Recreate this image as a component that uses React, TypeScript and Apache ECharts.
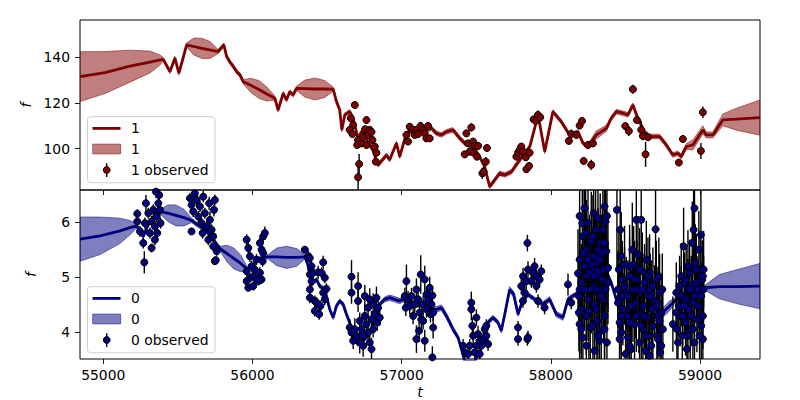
import React, { useEffect, useRef } from "react";
import * as echarts from "echarts";

const FONT = "DejaVu Sans";
const X_MIN = 54844;
const X_MAX = 59402;
const xTicks = [55000, 56000, 57000, 58000, 59000];
const topYTicks = [100, 120, 140];
const bottomYTicks = [4, 5, 6];
const topYRange = [81.9, 156.3];
const bottomYRange = [3.52, 6.58];

const TOP_COLOR = "#800000";
const TOP_FILL = "rgba(128,0,0,0.5)";
const BOT_COLOR = "#000080";
const BOT_FILL = "rgba(0,0,128,0.5)";

// band "1": [t, mean, sigma]
const topMean: number[][] = [
  [54844,131.5,10.9],[55011,133.3,9.2],[55179,136.1,7.0],[55313,137.9,4.8],[55380,138.8,2.2],[55402,139.1,0.8],
  [55447,133.7,0.9],[55480,139.6,0.9],[55507,133.0,0.9],[55559,145.4,0.9],[55607,144.7,3.7],[55661,143.9,4.4],
  [55715,143.2,3.7],[55770,142.5,0.9],[55808,145.4,0.9],[55827,140.3,0.9],[55849,137.9,0.9],[55869,136.2,0.9],
  [55894,133.7,0.9],[55916,132.3,0.9],[55938,129.3,0.9],[55989,127.7,3.1],[56043,125.9,3.9],[56096,123.9,3.1],
  [56150,122.1,0.9],[56172,116.9,0.9],[56206,124.2,0.9],[56228,121.3,0.9],[56250,124.9,0.9],[56273,123.5,0.9],
  [56295,126.4,0.9],[56351,126.3,3.7],[56418,126.1,4.8],[56485,126.1,3.7],[56541,126.0,0.9],[56563,120.6,0.9],
  [56585,116.9,0.9],[56599,108.2,0.9],[56619,114.8,0.9],[56652,116.2,0.9],[56675,113.3,0.9],[56706,104.7,0.9],
  [56740,108.2,0.9],[56773,102.9,0.9],[56807,99.4,0.9],[56842,92.8,0.9],[56898,97.2,0.9],[56920,95.1,0.9],
  [56965,102.4,0.9],[56987,96.5,0.9],[57032,106.7,0.9],[57088,108.9,0.9],[57155,108.2,1.0],[57200,108.9,1.0],
  [57233,106.7,1.0],[57267,106.0,1.0],[57300,107.4,1.0],[57344,108.2,1.0],[57389,104.6,1.0],[57423,102.4,1.0],
  [57478,100.9,0.9],[57523,96.5,0.9],[57556,92.1,0.9],[57590,83.4,0.9],[57624,86.3,1.0],[57657,89.2,1.0],
  [57691,88.5,1.0],[57736,89.9,1.0],[57792,95.1,1.0],[57859,100.9,0.9],[57892,109.1,0.9],[57914,114.8,0.9],
  [57959,98.7,0.9],[58014,116.2,0.9],[58070,111.8,0.9],[58126,106.0,0.9],[58182,107.4,0.9],[58215,102.4,0.9],
  [58249,100.9,1.0],[58305,106.0,1.8],[58372,108.9,1.3],[58405,113.3,1.0],[58439,116.2,1.0],[58483,115.5,1.0],
  [58517,114.8,1.0],[58550,119.1,0.9],[58583,113.3,0.9],[58628,107.4,0.9],[58662,105.3,1.0],[58729,105.3,1.0],
  [58774,101.6,1.0],[58818,97.2,1.0],[58851,98.0,1.0],[58874,96.5,1.0],[58908,100.9,1.3],[58952,101.6,2.2],
  [59019,108.2,1.8],[59042,106.0,1.3],[59086,106.0,1.3],[59153,112.6,2.6],[59243,112.9,4.8],[59402,113.6,7.7]
];

// band "1" observed: [t, f, err]
const topObs: number[][] = [
  [56686,119.1,1.5],[56659,113.3,1.5],[56675,110.4,1.5],[56652,108.2,1.5],[56670,106.4,1.5],[56708,103.8,1.5],
  [56702,101.6,1.5],[56731,102.3,1.5],[56742,105.0,1.5],[56764,112.5,1.5],[56755,108.5,1.5],[56775,106.0,1.5],
  [56786,108.2,1.5],[56798,107.3,1.5],[56764,101.6,1.5],[56804,103.8,1.5],[56820,100.9,1.5],[56831,98.2,1.5],
  [56827,94.3,1.5],[56715,93.3,4.4],[56708,87.5,5.3],
  [57032,106.0,1.5],[57043,103.1,1.5],[57054,109.6,1.5],[57072,108.2,1.5],[57088,106.0,1.5],[57099,108.2,1.5],
  [57110,106.4,1.5],[57126,109.9,1.8],[57144,108.2,1.5],[57155,106.7,1.5],[57166,104.5,1.5],[57177,109.9,1.8],
  [57188,104.5,1.5],
  [57434,106.7,1.5],[57445,102.3,1.5],[57423,97.5,1.5],[57467,109.3,1.8],[57479,103.1,1.5],[57456,98.7,1.5],
  [57490,101.2,1.5],[57483,98.2,1.5],[57512,101.2,1.5],[57505,96.5,1.5],[57541,89.2,2.5],[57550,89.9,2.0],
  [57564,94.3,2.0],[57572,100.3,1.5],
  [57769,96.5,1.5],[57780,98.2,1.5],[57791,99.4,1.5],[57802,100.9,1.5],[57814,98.7,1.5],[57832,96.2,1.5],
  [57836,91.0,1.5],[57854,92.4,1.5],[57858,98.2,1.5],
  [57885,112.8,1.5],[57898,112.1,1.5],[57914,114.7,2.0],[57929,113.7,1.5],
  [58121,103.4,1.5],[58137,106.4,2.0],[58171,106.0,1.5],[58193,110.1,1.5],[58209,112.1,1.8],[58220,94.6,1.5],
  [58249,101.6,1.8],[58271,92.9,2.2],[58282,102.3,1.5],
  [58550,126.0,2.0],[58499,109.9,1.5],[58523,107.7,2.2],[58577,112.5,1.5],[58606,108.2,4.0],[58617,105.5,1.8],
  [58635,97.5,5.5],[58651,105.0,1.5],
  [58858,93.9,1.5],[58885,104.2,1.5],[59006,99.0,3.5],[59019,115.9,2.5]
];

// band "0": [t, mean, sigma]
const bottomMean: number[][] = [
  [54844,5.69,0.40],[54978,5.75,0.34],[55112,5.84,0.23],[55179,5.90,0.13],[55224,5.93,0.04],[55268,5.74,0.04],
  [55301,5.95,0.04],[55333,6.08,0.04],[55380,6.19,0.04],[55433,6.16,0.15],[55487,6.12,0.19],[55541,6.08,0.15],
  [55592,6.03,0.04],[55621,5.97,0.04],[55661,5.90,0.04],[55701,5.81,0.04],[55737,5.68,0.04],[55782,5.52,0.04],
  [55829,5.43,0.15],[55875,5.34,0.19],[55922,5.25,0.15],[55966,5.14,0.04],[56003,5.23,0.04],[56036,5.32,0.04],
  [56070,5.36,0.04],[56105,5.37,0.04],[56163,5.37,0.16],[56230,5.36,0.20],[56297,5.36,0.16],[56351,5.37,0.04],
  [56371,5.23,0.04],[56396,4.87,0.04],[56429,4.96,0.04],[56451,4.84,0.04],[56485,4.78,0.04],[56518,4.42,0.04],
  [56541,4.27,0.04],[56563,4.48,0.04],[56585,4.57,0.04],[56608,4.51,0.04],[56630,4.33,0.04],[56652,4.18,0.04],
  [56675,3.94,0.04],[56706,3.79,0.04],[56753,3.88,0.04],[56800,4.06,0.04],[56833,4.33,0.04],[56853,4.51,0.04],
  [56887,4.60,0.045],[56920,4.63,0.05],[56954,4.60,0.05],[56987,4.57,0.05],[57009,4.60,0.05],[57054,4.56,0.04],
  [57121,4.51,0.04],[57175,4.46,0.04],[57210,4.42,0.045],[57233,4.42,0.05],[57267,4.45,0.05],[57300,4.30,0.05],
  [57344,4.06,0.05],[57378,3.91,0.04],[57401,3.70,0.04],[57423,3.48,0.04],[57490,3.48,0.04],[57543,3.79,0.04],
  [57579,4.18,0.04],[57612,4.27,0.04],[57646,4.18,0.04],[57668,4.03,0.04],[57691,4.33,0.04],[57724,4.78,0.05],
  [57751,4.69,0.05],[57780,4.33,0.04],[57802,4.51,0.04],[57845,4.69,0.04],[57892,4.60,0.04],[57947,4.51,0.05],
  [57992,4.60,0.05],[58037,4.33,0.05],[58081,4.27,0.05],[58115,4.60,0.045],[58148,4.66,0.04],[58193,4.74,0.04],
  [58260,4.87,0.04],[58327,5.05,0.04],[58372,5.11,0.04],[58405,4.90,0.04],[58439,4.60,0.04],[58461,4.48,0.04],
  [58528,4.38,0.04],[58628,4.28,0.04],[58695,4.27,0.06],[58751,4.36,0.09],[58796,4.48,0.09],[58829,4.57,0.05],
  [58896,4.69,0.04],[58963,4.74,0.04],[59030,4.81,0.04],[59130,4.83,0.22],[59264,4.83,0.32],[59402,4.84,0.41]
];

// band "0" observed: [t, f, err]
const bottomObs: number[][] = [
  [55228,6.15,0.08],[55228,6.01,0.08],[55246,5.83,0.1],[55268,5.62,0.1],[55275,5.27,0.2],[55286,6.34,0.15],
  [55279,5.98,0.1],[55302,6.16,0.1],[55313,5.80,0.1],[55324,5.53,0.08],[55324,6.01,0.1],[55335,6.22,0.1],
  [55346,5.68,0.1],[55346,5.92,0.1],[55358,6.10,0.1],[55362,5.80,0.1],[55369,6.34,0.12],[55375,6.49,0.15],
  [55380,6.22,0.1],[55384,5.98,0.1],[55353,6.55,0.12],
  [55592,5.83,0.06],[55581,6.43,0.1],[55592,6.31,0.1],[55603,6.19,0.1],[55614,6.52,0.1],[55626,6.40,0.1],
  [55637,6.10,0.1],[55648,6.28,0.1],[55659,5.98,0.1],[55666,5.80,0.1],[55670,6.46,0.1],[55681,6.16,0.1],
  [55693,5.92,0.1],[55704,5.68,0.1],[55710,6.34,0.12],[55715,6.04,0.15],[55726,5.86,0.1],[55737,5.74,0.1],
  [55742,6.22,0.12],[55748,6.40,0.1],[55737,5.56,0.08],[55760,5.47,0.08],[55748,5.29,0.06],[55754,5.31,0.06],
  [55961,5.68,0.1],[55972,5.53,0.1],[55983,5.38,0.1],[55961,5.11,0.08],[55961,4.93,0.08],[55972,4.81,0.06],
  [55983,4.99,0.08],[55994,5.20,0.1],[56005,5.02,0.08],[56016,5.14,0.1],[56027,5.32,0.1],[56039,4.93,0.08],
  [56050,5.62,0.1],[56050,5.08,0.1],[56061,5.50,0.1],[56068,5.29,0.1],[56072,5.74,0.12],[56083,5.80,0.12],
  [56072,5.44,0.1],[56061,4.96,0.08],[56005,4.84,0.08],[56027,4.96,0.08],
  [56351,5.50,0.06],[56374,5.38,0.1],[56385,5.05,0.1],[56385,4.78,0.1],[56385,4.63,0.1],[56384,5.35,0.1],
  [56396,5.20,0.1],[56407,5.08,0.1],[56396,4.93,0.1],[56418,4.57,0.1],[56418,4.39,0.1],[56429,4.54,0.1],
  [56447,4.33,0.1],[56440,5.09,0.12],[56463,5.08,0.1],[56474,5.27,0.12],[56485,4.99,0.1],[56474,4.72,0.1],
  [56485,4.60,0.1],[56496,4.79,0.1],[56456,4.48,0.1],
  [56664,5.01,0.3],[56664,4.72,0.2],[56652,4.09,0.15],[56664,4.00,0.15],[56675,3.85,0.15],[56686,4.06,0.2],
  [56697,3.94,0.15],[56708,4.84,0.25],[56708,4.57,0.2],[56719,4.21,0.15],[56719,3.82,0.2],[56731,4.06,0.2],
  [56742,3.76,0.2],[56742,3.94,0.15],[56753,4.30,0.2],[56753,4.66,0.2],[56764,4.15,0.15],[56775,4.45,0.2],
  [56775,4.00,0.15],[56786,4.60,0.2],[56786,3.82,0.15],[56798,4.24,0.15],[56798,3.70,0.2],[56809,4.51,0.2],
  [56809,4.06,0.15],[56820,4.33,0.15],[56831,4.63,0.2],[56836,4.18,0.15],[56842,4.45,0.15],[56853,4.27,0.15],
  [57032,4.93,0.3],[57021,4.66,0.15],[57028,4.45,0.15],[57043,4.60,0.15],[57054,4.48,0.15],[57066,4.66,0.15],
  [57077,4.30,0.15],[57088,4.51,0.15],[57099,4.78,0.2],[57099,3.88,0.25],[57110,4.60,0.15],[57117,4.03,0.2],
  [57121,4.36,0.15],[57128,5.05,0.35],[57132,4.24,0.2],[57144,4.51,0.15],[57144,4.21,0.15],[57155,4.96,0.25],
  [57155,3.85,0.2],[57166,4.69,0.15],[57166,4.42,0.15],[57177,4.60,0.15],[57188,4.81,0.2],[57193,4.33,0.15],
  [57200,4.51,0.15],[57206,4.67,0.15],[57211,4.36,0.15],[57211,4.09,0.2],[57206,3.55,0.2],
  [57467,4.54,0.2],[57467,4.42,0.2],[57474,4.12,0.15],[57479,3.94,0.15],[57501,4.27,0.15],[57512,3.97,0.15],
  [57523,3.85,0.12],[57534,3.76,0.12],[57546,3.88,0.12],[57557,4.06,0.12],[57568,3.94,0.12],[57579,3.79,0.12],
  [57501,3.76,0.12],[57412,3.76,0.12],[57423,3.64,0.12],[57445,3.61,0.12],[57456,3.76,0.12],[57490,3.64,0.12],
  [57523,3.61,0.12],[57568,4.12,0.12],
  [57780,4.09,0.12],[57780,3.88,0.12],[57802,4.84,0.15],[57814,5.02,0.15],[57825,4.72,0.15],[57836,4.93,0.15],
  [57843,5.62,0.15],[57843,3.88,0.12],[57847,5.14,0.15],[57813,4.57,0.12],[57869,4.93,0.12],[57880,5.08,0.12],
  [57891,5.20,0.15],[57903,5.02,0.12],[57903,4.84,0.12],[57914,4.57,0.12],[57925,4.96,0.12],[57936,5.11,0.12],
  [57958,4.45,0.12],[57847,3.91,0.12],
  [58115,4.87,0.2],[58137,4.54,0.12],
  [58193,6.11,0.9],[58211,5.98,0.75],[58226,6.25,1.0],[58193,5.32,0.75],[58193,5.08,0.9],[58204,4.90,0.7],
  [58215,4.78,0.75],[58188,4.66,0.6],[58193,4.15,0.9],[58204,4.06,0.75],[58215,3.91,0.9],[58226,5.20,0.75],
  [58238,5.50,0.9],[58242,5.02,0.7],[58249,4.60,0.75],[58255,4.39,0.9],[58260,5.38,0.75],[58264,4.09,0.75],
  [58271,5.65,0.9],[58278,5.14,0.7],[58282,4.84,0.75],[58287,6.16,1.0],[58293,4.51,0.75],[58300,5.86,0.9],
  [58305,5.26,0.75],[58309,4.21,0.9],[58316,6.07,1.0],[58316,5.50,0.75],[58322,4.72,0.75],[58327,5.05,0.7],
  [58331,5.62,0.9],[58338,4.03,0.75],[58338,5.38,0.75],[58345,4.96,0.7],[58349,5.86,0.9],[58354,4.60,0.75],
  [58360,6.28,1.1],[58360,4.30,0.75],[58367,6.01,0.9],[58372,5.47,0.75],[58372,5.17,0.7],[58376,6.11,1.0],
  [58383,4.90,0.75],[58376,3.82,0.75],[58327,3.85,0.75],[58293,3.67,0.9],[58238,3.76,0.75],[58271,5.23,0.75],
  [58305,4.42,0.75],[58349,4.78,0.75],[58249,5.98,0.9],[58282,5.74,0.75],[58215,5.74,0.9],
  [58182,5.07,0.8],[58193,4.78,0.7],[58204,4.42,0.8],[58226,4.78,0.7],[58233,5.80,0.9],[58260,5.08,0.7],
  [58271,4.78,0.8],[58293,5.38,0.7],[58305,4.78,0.8],[58316,5.11,0.7],[58327,5.32,0.8],[58338,4.66,0.7],
  [58345,5.44,0.8],[58354,5.14,0.7],[58360,5.62,0.9],[58367,4.78,0.7],[58293,5.02,0.8],[58249,5.32,0.7],
  [58215,5.44,0.8],[58238,4.30,0.7],[58282,4.12,0.8],[58316,3.94,0.8],[58360,4.06,0.7],[58383,5.17,0.8],
  [58188,4.36,0.7],
  [58443,6.22,1.1],[58465,5.86,0.85],[58456,5.14,0.7],[58450,4.78,0.7],[58461,4.60,0.65],[58461,4.18,0.7],
  [58472,4.00,0.7],[58479,4.96,0.7],[58483,4.42,0.65],[58494,5.23,0.7],[58501,3.61,0.7],[58506,4.72,0.65],
  [58510,4.30,0.7],[58517,3.91,0.7],[58528,5.02,0.7],[58532,4.48,0.65],[58539,3.70,0.7],[58546,5.50,0.85],
  [58550,4.78,0.65],[58555,5.23,0.7],[58561,4.15,0.7],[58568,4.54,0.65],[58573,6.04,1.0],[58577,4.96,0.7],
  [58584,5.41,0.7],[58590,4.33,0.7],[58595,3.82,0.7],[58599,4.72,0.65],[58606,6.04,1.0],[58613,5.11,0.7],
  [58617,4.06,0.7],[58622,4.48,0.65],[58628,4.90,0.7],[58635,3.67,0.7],[58640,5.32,0.7],[58644,4.27,0.65],
  [58651,4.66,0.65],[58657,3.94,0.7],[58662,5.08,0.7],[58666,4.78,0.65],[58673,3.76,0.7],[58680,4.42,0.65],
  [58684,4.12,0.7],[58695,4.57,0.65],[58702,5.87,0.85],[58707,4.96,0.7],[58711,3.94,0.7],[58718,4.54,0.65],
  [58724,5.02,0.7],[58729,4.21,0.65],[58733,3.64,0.7],[58740,3.76,0.65],[58747,4.78,0.65],[58751,4.06,0.7],
  [58718,4.30,0.65],[58483,4.66,0.65],[58550,4.48,0.65],[58528,4.18,0.7],[58662,3.58,0.7],[58584,4.78,0.65],
  [58450,4.54,0.7],[58472,4.30,0.65],[58494,4.84,0.7],[58517,4.66,0.65],[58528,5.20,0.75],[58539,4.48,0.65],
  [58561,4.96,0.7],[58573,4.30,0.65],[58595,5.14,0.75],[58617,4.78,0.65],[58628,4.30,0.7],[58651,5.02,0.7],
  [58673,4.66,0.65],[58684,4.84,0.7],[58707,4.48,0.65],[58729,4.72,0.7],[58740,4.36,0.65],[58472,5.38,0.8],
  [58640,3.94,0.7],[58528,3.76,0.7],[58606,4.12,0.65],[58718,3.88,0.7],[58461,3.88,0.7],
  [58818,4.15,0.5],[58841,4.72,0.55],[58845,4.06,0.55],[58858,4.48,0.55],[58863,4.84,0.55],[58867,4.30,0.55],
  [58874,4.66,0.55],[58881,3.94,0.6],[58890,5.56,0.7],[58896,4.90,0.55],[58903,4.18,0.6],[58907,4.60,0.55],
  [58912,3.70,0.7],[58919,4.78,0.55],[58925,4.42,0.55],[58930,5.08,0.6],[58934,4.06,0.6],[58941,4.84,0.55],
  [58948,5.62,0.75],[58952,4.54,0.55],[58957,5.86,0.8],[58963,6.25,0.95],[58968,5.26,0.7],[58975,4.90,0.6],
  [58979,4.24,0.6],[58986,4.78,0.6],[58992,5.50,0.7],[58997,4.48,0.6],[59001,5.14,0.7],[59006,5.77,0.8],
  [59008,4.12,0.6],[59015,4.96,0.7],[59019,3.88,0.7],[59024,4.78,0.6],[59024,5.14,0.7],[59019,4.30,0.6],
  [58919,3.94,0.6],[58963,3.82,0.7],[58885,4.30,0.55],[58852,3.82,0.6],
  [58841,4.36,0.55],[58874,5.02,0.6],[58896,4.48,0.55],[58919,5.20,0.65],[58941,4.30,0.55],[58963,4.66,0.6],
  [58975,5.14,0.65],[58986,4.48,0.6],[59008,4.66,0.6],[59019,5.02,0.65],[58907,4.96,0.6],[58952,4.06,0.6],
  [58997,3.94,0.6],[58930,4.78,0.55]
];

const textStyle = { fontFamily: FONT, fontSize: 13.9, color: "#000" };

function bandSeries(mean: number[][], gi: number, fill: string) {
  return {
    type: "custom",
    xAxisIndex: gi,
    yAxisIndex: gi,
    silent: true,
    z: 1,
    clip: true,
    data: [[mean[0][0], mean[0][1]]],
    renderItem: (params: any, api: any) => {
      const pts: number[][] = [];
      for (const m of mean) pts.push(api.coord([m[0], m[1] + m[2]]));
      for (let i = mean.length - 1; i >= 0; i--) pts.push(api.coord([mean[i][0], mean[i][1] - mean[i][2]]));
      const cs = params.coordSys;
      return {
        type: "polygon",
        shape: { points: pts },
        style: { fill, stroke: fill, lineWidth: 1 },
        clipPath: { type: "rect", shape: { x: cs.x, y: cs.y, width: cs.width, height: cs.height } },
      };
    },
  };
}

function lineSeries(mean: number[][], gi: number, color: string) {
  return {
    type: "line",
    xAxisIndex: gi,
    yAxisIndex: gi,
    silent: true,
    z: 2,
    clip: true,
    showSymbol: false,
    symbol: "none",
    data: mean.map((m) => [m[0], m[1]]),
    lineStyle: { color, width: 2.8 },
  };
}

function errSeries(obs: number[][], gi: number) {
  return {
    type: "custom",
    xAxisIndex: gi,
    yAxisIndex: gi,
    silent: true,
    z: 3,
    data: obs,
    renderItem: (params: any, api: any) => {
      const x = api.value(0);
      const y = api.value(1);
      const e = api.value(2);
      const p1 = api.coord([x, y + e]);
      const p2 = api.coord([x, y - e]);
      const cs = params.coordSys;
      const top = Math.max(p1[1], cs.y);
      const bot = Math.min(p2[1], cs.y + cs.height);
      if (bot <= top) return { type: "group", children: [] };
      return {
        type: "line",
        shape: { x1: p1[0], y1: top, x2: p1[0], y2: bot },
        style: { stroke: "#000", lineWidth: 1.4 },
      };
    },
  };
}

function scatterSeries(obs: number[][], gi: number, color: string) {
  return {
    type: "scatter",
    xAxisIndex: gi,
    yAxisIndex: gi,
    silent: true,
    z: 4,
    clip: true,
    symbol: "circle",
    symbolSize: 7,
    data: obs.map((o) => [o[0], o[1]]),
    itemStyle: { color, borderColor: "#000", borderWidth: 1, opacity: 1 },
  };
}

function legendGraphic(top: number, label: string, color: string, fill: string) {
  const tx = 131;
  return {
    type: "group",
    z: 100,
    children: [
      { type: "rect", z: 100, shape: { x: 87.5, y: top, width: 127.5, height: 66, r: 3 },
        style: { fill: "rgba(255,255,255,0.8)", stroke: "#d0d0d0", lineWidth: 1 } },
      { type: "line", z: 101, shape: { x1: 92.5, y1: top + 11.7, x2: 120.5, y2: top + 11.7 },
        style: { stroke: color, lineWidth: 2.8 } },
      { type: "rect", z: 101, shape: { x: 92.7, y: top + 27.4, width: 28, height: 9.8 },
        style: { fill, stroke: fill, lineWidth: 1 } },
      { type: "line", z: 101, shape: { x1: 106.7, y1: top + 46.5, x2: 106.7, y2: top + 60.2 },
        style: { stroke: "#000", lineWidth: 1.4 } },
      { type: "circle", z: 102, shape: { cx: 106.7, cy: top + 53.3, r: 3.4 },
        style: { fill: color, stroke: "#000", lineWidth: 1 } },
      { type: "text", z: 102, x: tx, y: top + 11.7,
        style: { text: label, fontFamily: FONT, fontSize: 13.9, fill: "#000", verticalAlign: "middle" } },
      { type: "text", z: 102, x: tx, y: top + 32.3,
        style: { text: label, fontFamily: FONT, fontSize: 13.9, fill: "#000", verticalAlign: "middle" } },
      { type: "text", z: 102, x: tx, y: top + 53.3,
        style: { text: label + " observed", fontFamily: FONT, fontSize: 13.9, fill: "#000", verticalAlign: "middle" } },
    ],
  };
}

function xAxisOpt(gi: number, showLabels: boolean) {
  return {
    gridIndex: gi,
    type: "value",
    min: X_MIN,
    max: X_MAX,
    axisLine: { show: false },
    axisTick: { show: true, customValues: xTicks, length: 5, lineStyle: { color: "#000", width: 0.9 } },
    axisLabel: {
      show: showLabels,
      customValues: xTicks,
      margin: 9,
      formatter: (v: number) => String(v),
      ...textStyle,
    },
    splitLine: { show: false },
    ...(showLabels
      ? {
          name: "t",
          nameLocation: "middle",
          nameGap: 26,
          nameTextStyle: { ...textStyle, fontStyle: "italic" },
        }
      : {}),
  };
}

function yAxisOpt(gi: number, range: number[], ticks: number[]) {
  return {
    gridIndex: gi,
    type: "value",
    min: range[0],
    max: range[1],
    axisLine: { show: false },
    axisTick: { show: true, customValues: ticks, length: 5, lineStyle: { color: "#000", width: 0.9 } },
    axisLabel: {
      show: true,
      customValues: ticks,
      margin: 10,
      formatter: (v: number) => String(v),
      ...textStyle,
    },
    splitLine: { show: false },
    name: "f",
    nameLocation: "middle",
    nameGap: 42,
    nameRotate: 90,
    nameTextStyle: { ...textStyle, fontStyle: "italic" },
  };
}

export default function App() {
  const ref = useRef<HTMLDivElement>(null);
  useEffect(() => {
    if (!ref.current) return;
    const chart = echarts.init(ref.current, null, { renderer: "svg" });
    const gridBase = { left: 80, width: 680, height: 170, show: true, borderColor: "#000", borderWidth: 1, backgroundColor: "transparent", containLabel: false };
    chart.setOption({
      animation: false,
      backgroundColor: "#fff",
      textStyle: { fontFamily: FONT },
      grid: [
        { ...gridBase, top: 20 },
        { ...gridBase, top: 190 },
      ],
      xAxis: [xAxisOpt(0, false), xAxisOpt(1, true)],
      yAxis: [yAxisOpt(0, topYRange, topYTicks), yAxisOpt(1, bottomYRange, bottomYTicks)],
      series: [
        bandSeries(topMean, 0, TOP_FILL),
        lineSeries(topMean, 0, TOP_COLOR),
        errSeries(topObs, 0),
        scatterSeries(topObs, 0, TOP_COLOR),
        bandSeries(bottomMean, 1, BOT_FILL),
        lineSeries(bottomMean, 1, BOT_COLOR),
        errSeries(bottomObs, 1),
        scatterSeries(bottomObs, 1, BOT_COLOR),
      ],
      graphic: [
        legendGraphic(116.7, "1", TOP_COLOR, TOP_FILL),
        legendGraphic(286.7, "0", BOT_COLOR, BOT_FILL),
      ],
    });
    return () => chart.dispose();
  }, []);
  return (
    <div
      ref={ref}
      style={{ position: "absolute", left: 0, top: 0, width: 800, height: 400 }}
    />
  );
}
